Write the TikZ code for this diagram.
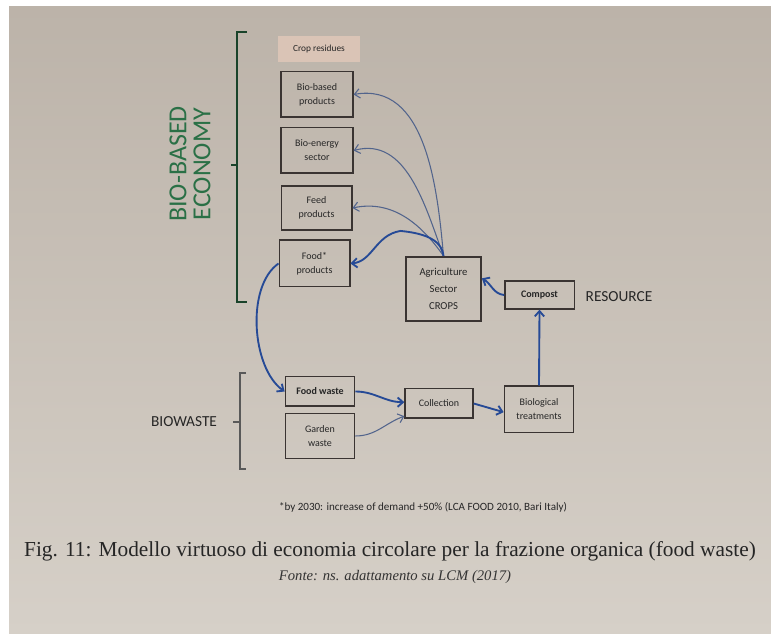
\documentclass[tikz,border=0pt]{standalone}
\usepackage{fontspec}
\setmainfont{Liberation Serif}
\newfontfamily\boxfont{Carlito}
\usetikzlibrary{positioning, arrows.meta}

\definecolor{paperdark}{RGB}{188,179,169}
\definecolor{paperlight}{RGB}{214,208,200}
\definecolor{boxline}{RGB}{58,52,50}
\definecolor{flowblue}{RGB}{38,74,150}
\definecolor{thinblue}{RGB}{82,100,140}
\definecolor{ecogreen}{RGB}{42,112,70}
\definecolor{cropfill}{RGB}{218,196,182}

\begin{document}
\begin{tikzpicture}[x=0.75pt, y=0.75pt,
    box/.style={draw=boxline, line width=1pt, align=center, inner sep=1pt,
        font=\boxfont\fontsize{7.5}{10.5}\selectfont, text=black!85},
    flow/.style={draw=flowblue, line width=1.4pt, -{Straight Barb[length=4pt, width=7pt]}},
    thinflow/.style={draw=thinblue, line width=0.8pt, -{Straight Barb[length=4pt, width=7pt]}},
    bracket/.style={line width=0.9pt}]

    \useasboundingbox (0,0) rectangle (771,-634);
    \fill[white] (0,0) rectangle (771,-634);
    \shade[top color=paperdark, bottom color=paperlight] (9,-7) rectangle (771,-634);

    \node[box, draw=none, fill=cropfill, minimum width=61pt, minimum height=19pt,
        font=\boxfont\fontsize{7}{8}\selectfont] (crop) at (319,-49) {Crop residues};
    \node[box, minimum width=54pt, minimum height=34pt] (biobased) at (317,-94.5) {Bio-based\\products};
    \node[box, minimum width=54pt, minimum height=34pt] (bioenergy) at (317,-150.5) {Bio-energy\\sector};
    \node[box, minimum width=53pt, minimum height=33pt] (feed) at (316.5,-208) {Feed\\products};
    \node[box, minimum width=53pt, minimum height=35pt] (foodprod) at (314.5,-263.5) {Food*\\products};
    \node[box, line width=1.6pt, minimum width=56pt, minimum height=48pt,
        font=\boxfont\fontsize{8}{12.5}\selectfont] (agri) at (443.5,-289) {Agriculture\\Sector\\CROPS};
    \node[box, minimum width=52pt, minimum height=21pt,
        font=\boxfont\bfseries\fontsize{7.5}{10.5}\selectfont] (compost) at (539.5,-295) {Compost};
    \node[box, minimum width=52pt, minimum height=35pt] (biotreat) at (539,-409.5) {Biological\\treatments};
    \node[box, minimum width=51pt, minimum height=22pt] (collect) at (439,-403.5) {Collection};
    \node[box, minimum width=52pt, minimum height=22pt,
        font=\boxfont\bfseries\fontsize{7.5}{10.5}\selectfont] (foodwaste) at (320,-391.5) {Food waste};
    \node[box, minimum width=52pt, minimum height=34pt] (garden) at (320,-436) {Garden\\waste};

    \node[font=\boxfont\fontsize{11.5}{13}\selectfont, text=black!85] (resource) at (619,-297) {RESOURCE};
    \node[font=\boxfont\fontsize{11.5}{13}\selectfont, text=black!85] (biowaste) at (184,-422) {BIOWASTE};
    \node[rotate=90, align=center, text=ecogreen,
        font=\boxfont\fontsize{19.5}{18}\selectfont] (bioeco) at (190,-164) {BIO-BASED\\ECONOMY};

    \draw[bracket, draw=ecogreen!60!black] (247,-32) -- (237,-32) -- (237,-302) -- (247,-302);
    \draw[bracket, draw=ecogreen!60!black] (237,-165) -- (231,-165);
    \draw[bracket, draw=black!65] (246,-373) -- (240,-373) -- (240,-469) -- (246,-469);
    \draw[bracket, draw=black!65] (240,-422) -- (233,-422);

    \draw[thinflow] (agri.north) to[out=95, in=10] (biobased.east);
    \draw[thinflow] (agri.north) to[out=110, in=15] (bioenergy.east);
    \draw[thinflow] (agri.north) to[out=125, in=12] (feed.east);
    \draw[flow] (agri.north) .. controls +(-2,18) and +(20,-2) .. ++(-43,25)
        .. controls +(-25,-4) and +(22,2) .. (foodprod.east);
    \draw[flow] (foodprod.west) to[out=215, in=145, looseness=0.8] (foodwaste.west);
    \draw[flow] (foodwaste.east) to[out=0, in=180] ([yshift=1pt]collect.west);
    \draw[thinflow] (garden.east) to[out=0, in=200] ([yshift=2pt]collect.south west);
    \draw[flow] (collect.east) -- ([yshift=-2pt]biotreat.west);
    \draw[flow] (biotreat.north) -- (compost.south);
    \draw[flow] (compost.west) to[out=175, in=-30] ([yshift=8pt]agri.east);

    \node[font=\boxfont\fontsize{8.3}{10}\selectfont, text=black!85] (note) at (423,-507)
        {*by 2030: increase of demand +50\% (LCA FOOD 2010, Bari Italy)};
    \node[font=\fontsize{16}{19}\selectfont, text=black!85] (caption) at (390,-551)
        {Fig. 11: Modello virtuoso di economia circolare per la frazione organica (food waste)};
    \node[font=\itshape\fontsize{11}{14}\selectfont, text=black!80] (source) at (395,-577)
        {Fonte: ns. adattamento su LCM (2017)};
\end{tikzpicture}
\end{document}
